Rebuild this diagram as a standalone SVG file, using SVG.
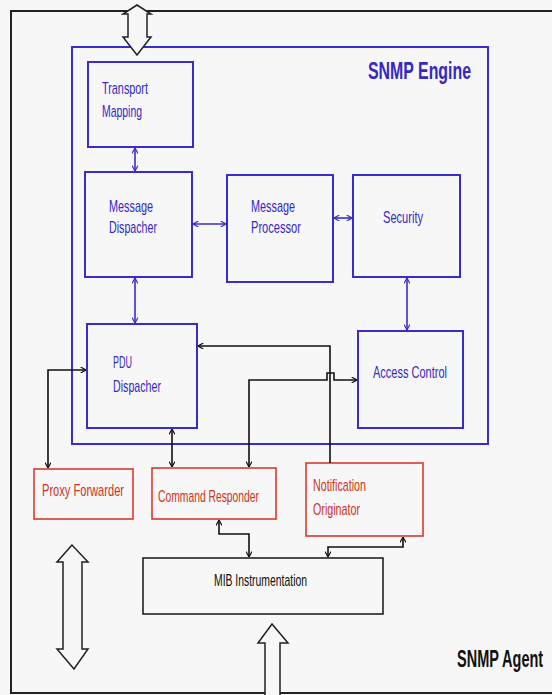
<svg xmlns="http://www.w3.org/2000/svg" width="552" height="695" viewBox="0 0 552 695">
<defs>
<marker id="ab" viewBox="0 0 10 10" refX="10" refY="5" markerWidth="6" markerHeight="6" orient="auto-start-reverse" markerUnits="userSpaceOnUse">
<path d="M1,0 L10,5 L1,10" fill="none" stroke="#3a2ccc" stroke-width="2"/>
</marker>
<marker id="ak" viewBox="0 0 10 10" refX="10" refY="5" markerWidth="6" markerHeight="6" orient="auto-start-reverse" markerUnits="userSpaceOnUse">
<path d="M1,0 L10,5 L1,10" fill="none" stroke="#111" stroke-width="2"/>
</marker>
<style>
.bx{fill:#f7f7f7;stroke:#3a2ccc;stroke-width:2}
.rx{fill:#f7f7f7;stroke:#d83a2c;stroke-width:1.6}
.kx{fill:#f7f7f7;stroke:#222;stroke-width:1.6}
.bt{font-family:"Liberation Sans",Arial,sans-serif;font-size:17px;fill:#3528c4}
.rt{font-family:"Liberation Sans",Arial,sans-serif;font-size:17px;fill:#cc3322}
.kt{font-family:"Liberation Sans",Arial,sans-serif;font-size:17px;fill:#111}
.big{font-family:"Liberation Sans",Arial,sans-serif;font-size:23px;font-weight:bold}
.cb{fill:none;stroke:#3a2ccc;stroke-width:1.6}
.ck{fill:none;stroke:#111;stroke-width:1.6}
.fat{fill:#f7f7f7;stroke:#222;stroke-width:1.5;stroke-linejoin:miter}
</style>
</defs>
<rect x="0" y="0" width="552" height="695" fill="#f7f7f7"/>
<g id="frame">
<path d="M552,11 L11,11 L11,693 L552,693" fill="none" stroke="#222" stroke-width="2"/>
</g>
<g id="engine">
<rect x="72" y="47" width="416" height="397" fill="none" stroke="#3a2ccc" stroke-width="2"/>
<text class="big" x="471" y="79" fill="#3528c4" text-anchor="end" textLength="103" lengthAdjust="spacingAndGlyphs">SNMP Engine</text>
</g>
<g id="transport">
<rect class="bx" x="88" y="62" width="105" height="85"/>
<text class="bt" x="102" y="94" textLength="46" lengthAdjust="spacingAndGlyphs">Transport</text>
<text class="bt" x="102" y="117" textLength="40" lengthAdjust="spacingAndGlyphs">Mapping</text>
</g>
<g id="msgdisp">
<rect class="bx" x="85" y="172" width="107" height="105"/>
<text class="bt" x="109" y="212" textLength="44" lengthAdjust="spacingAndGlyphs">Message</text>
<text class="bt" x="109" y="233" textLength="48" lengthAdjust="spacingAndGlyphs">Dispacher</text>
</g>
<g id="msgproc">
<rect class="bx" x="227" y="175" width="106" height="107"/>
<text class="bt" x="251" y="212" textLength="44" lengthAdjust="spacingAndGlyphs">Message</text>
<text class="bt" x="251" y="233" textLength="50" lengthAdjust="spacingAndGlyphs">Processor</text>
</g>
<g id="security">
<rect class="bx" x="353" y="175" width="107" height="102"/>
<text class="bt" x="383" y="223" textLength="40" lengthAdjust="spacingAndGlyphs">Security</text>
</g>
<g id="pdu">
<rect class="bx" x="87" y="324" width="110" height="104"/>
<text class="bt" x="113" y="368" textLength="19" lengthAdjust="spacingAndGlyphs">PDU</text>
<text class="bt" x="113" y="392" textLength="48" lengthAdjust="spacingAndGlyphs">Dispacher</text>
</g>
<g id="access">
<rect class="bx" x="358" y="331" width="105" height="97"/>
<text class="bt" x="373" y="378" textLength="74" lengthAdjust="spacingAndGlyphs">Access Control</text>
</g>
<g id="proxy">
<rect class="rx" x="34" y="469" width="99" height="50"/>
<text class="rt" x="42" y="496" textLength="82" lengthAdjust="spacingAndGlyphs">Proxy Forwarder</text>
</g>
<g id="cmdresp">
<rect class="rx" x="152" y="468" width="124" height="51"/>
<text class="rt" x="158" y="502" textLength="101" lengthAdjust="spacingAndGlyphs">Command Responder</text>
</g>
<g id="notif">
<rect class="rx" x="306" y="463" width="117" height="73"/>
<text class="rt" x="313" y="491" textLength="53" lengthAdjust="spacingAndGlyphs">Notification</text>
<text class="rt" x="313" y="515" textLength="47" lengthAdjust="spacingAndGlyphs">Originator</text>
</g>
<g id="mib">
<rect class="kx" x="143" y="558" width="240" height="56"/>
<text class="kt" x="214" y="586" textLength="93" lengthAdjust="spacingAndGlyphs">MIB Instrumentation</text>
</g>
<g id="agent">
<text class="big" transform="translate(457,667) scale(0.63,1)" x="0" y="0" fill="#111">SNMP Agent</text>
</g>
<g id="connectors">
<path class="cb" d="M135,148 L135,171" marker-start="url(#ab)" marker-end="url(#ab)"/>
<path class="cb" d="M193,224 L226,224" marker-start="url(#ab)" marker-end="url(#ab)"/>
<path class="cb" d="M334,218 L352,218" marker-start="url(#ab)" marker-end="url(#ab)"/>
<path class="cb" d="M135,278 L135,323" marker-start="url(#ab)" marker-end="url(#ab)"/>
<path class="cb" d="M407,278 L407,330" marker-start="url(#ab)" marker-end="url(#ab)"/>
<path class="ck" d="M86,370 L48,370 L48,468" marker-start="url(#ak)" marker-end="url(#ak)"/>
<path class="ck" d="M172,429 L172,467" marker-start="url(#ak)" marker-end="url(#ak)"/>
<path class="ck" d="M330,463 L330,346 L198,346" marker-end="url(#ak)"/>
<path class="ck" d="M357,380 L334,380 L334,373 L327,373 L327,380 L249,380 L249,467" marker-start="url(#ak)" marker-end="url(#ak)"/>
<path class="ck" d="M219,520 L219,534 L249,534 L249,557" marker-start="url(#ak)" marker-end="url(#ak)"/>
<path class="ck" d="M403,537 L403,547 L328,547 L328,557" marker-start="url(#ak)" marker-end="url(#ak)"/>
<polygon class="fat" points="137,5 123,14 128,14 128,37 123,37 137,55 151,37 147,37 147,14 151,14"/>
<polygon class="fat" points="72,545 57,562 63,562 63,649 57,649 74,669 88,649 82,649 82,562 88,562"/>
<polygon class="fat" points="272,624 258,643 265,643 265,700 280,700 280,643 288,643"/>
</g>
</svg>
